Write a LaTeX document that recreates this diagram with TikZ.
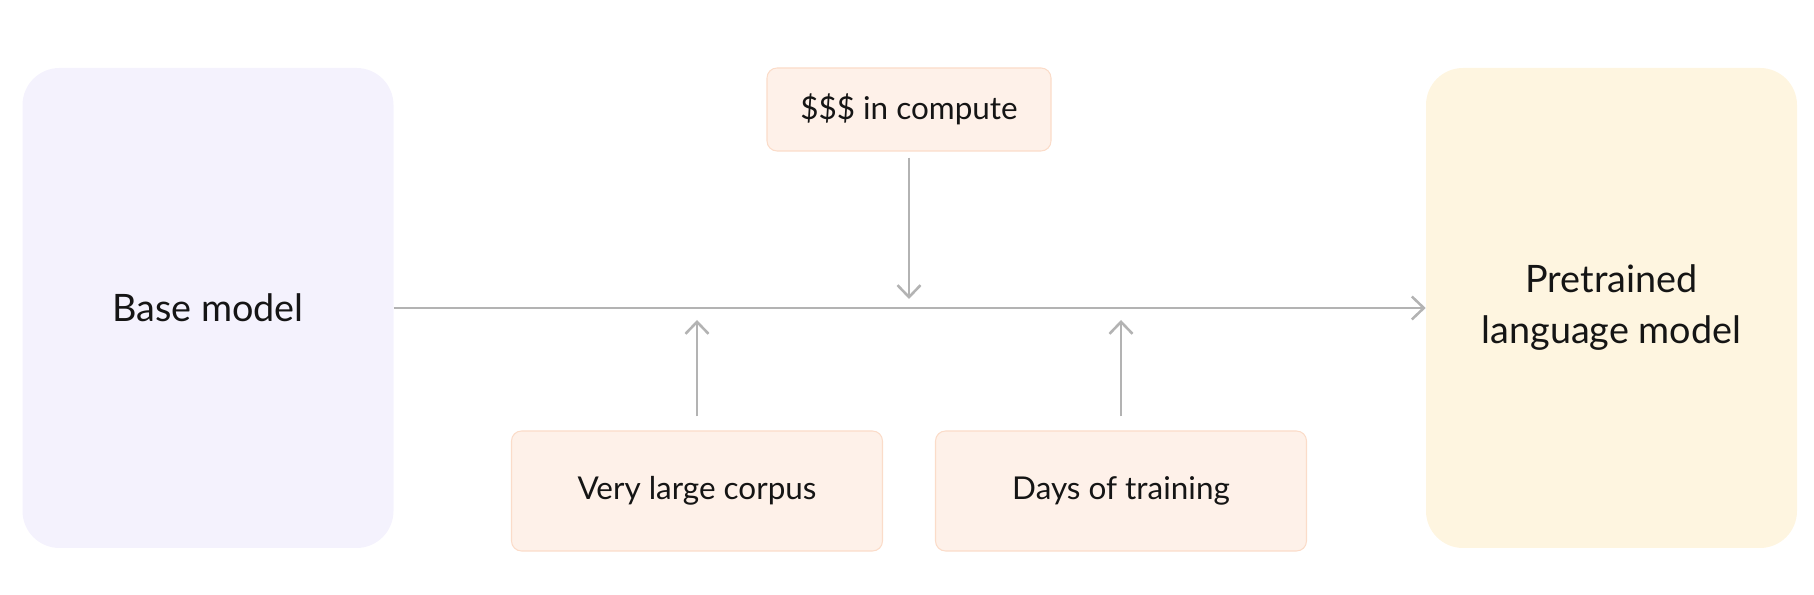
\documentclass[tikz,border=0pt]{standalone}
\usepackage{fontspec}
\setmainfont{Lato}
\usepackage{tikz}
\usetikzlibrary{arrows.meta, positioning, calc}
\definecolor{basefill}{HTML}{F4F2FD}
\definecolor{pretrainfill}{HTML}{FEF5E0}
\definecolor{inputfill}{HTML}{FEF1E9}
\definecolor{inputdraw}{HTML}{FBDCC9}
\definecolor{flowgray}{HTML}{B3B3B3}
\definecolor{textdark}{HTML}{151515}

\begin{document}
\begin{tikzpicture}[
    bigbox/.style={
        rounded corners=0.74cm,
        minimum width=7.42cm,
        minimum height=9.6cm,
        align=center,
        text=textdark,
        font=\fontsize{21.5}{29}\selectfont
    },
    inputbox/.style={
        draw=inputdraw,
        line width=0.6pt,
        fill=inputfill,
        rounded corners=0.2cm,
        align=center,
        text=textdark,
        font=\fontsize{17.9}{22}\selectfont
    },
    flow/.style={
        draw=flowgray,
        line width=1.45pt,
        -{Straight Barb[length=0.24cm, width=0.46cm, line width=1.45pt]}
    }
]

% Canvas
\useasboundingbox (0, 0) rectangle (36.28, 11.9);

% Start and end models
\node[bigbox, fill=basefill] (base) at (4.16, 5.74) {Base model};
\node[bigbox, fill=pretrainfill] (pretrained) at (32.23, 5.74) {Pretrained\\language model};

% Inputs
\node[inputbox, minimum width=5.68cm, minimum height=1.66cm] (compute) at (18.18, 9.71) {\$\$\$ in compute};
\node[inputbox, minimum width=7.42cm, minimum height=2.4cm] (corpus) at (13.94, 2.08) {Very large corpus};
\node[inputbox, minimum width=7.42cm, minimum height=2.4cm] (days) at (22.42, 2.08) {Days of training};

% Main flow
\draw[flow] (base.east) -- (pretrained.west);

% Feeds into the main flow
\coordinate (computein) at (compute.south |- base.east);
\coordinate (corpusin) at (corpus.north |- base.east);
\coordinate (daysin) at (days.north |- base.east);
\draw[flow, shorten <=0.12cm, shorten >=0.18cm] (compute.south) -- (computein);
\draw[flow, shorten <=0.28cm, shorten >=0.24cm] (corpus.north) -- (corpusin);
\draw[flow, shorten <=0.28cm, shorten >=0.24cm] (days.north) -- (daysin);

\end{tikzpicture}
\end{document}
